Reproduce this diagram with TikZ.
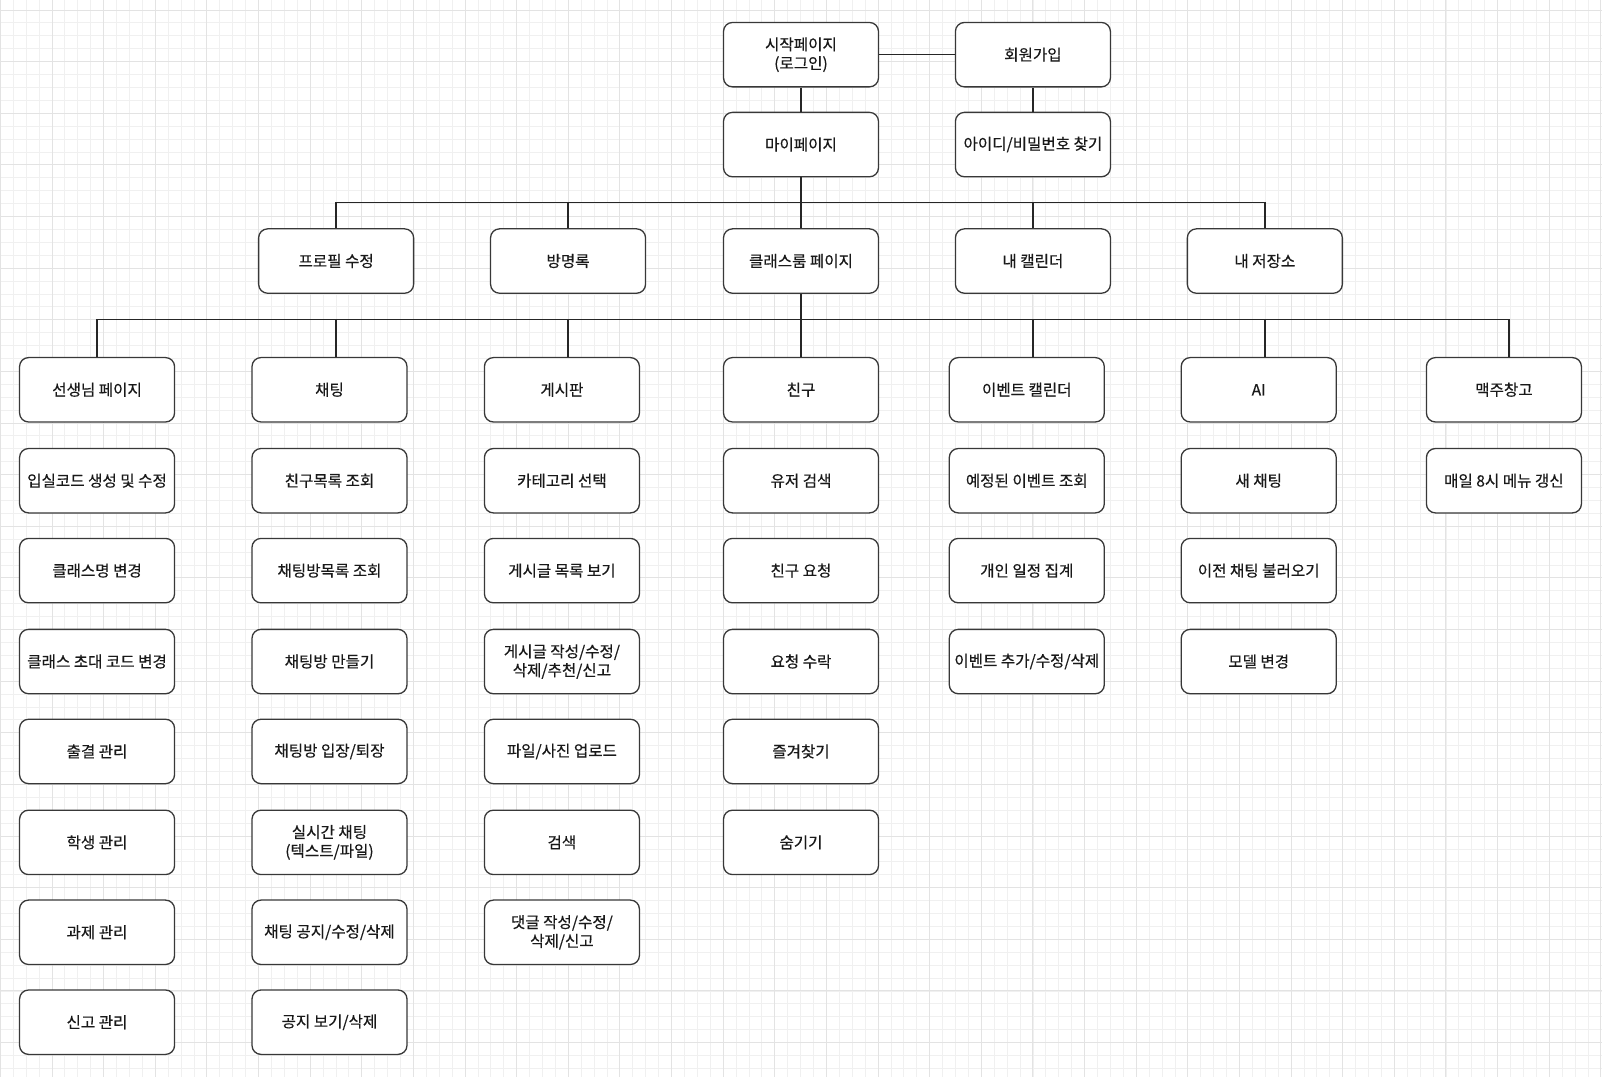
\documentclass[tikz,border=0pt]{standalone}
\usepackage{fontspec}
\setmainfont{Noto Sans CJK KR}[FakeBold=0.4]
\begin{document}
\begin{tikzpicture}[x=1.0217pt,y=-1.0217pt,
  bx/.style={draw=black!78, line width=1.3pt, rounded corners=9pt, fill=white,
    minimum width=155pt, minimum height=64.4pt, align=center, inner sep=1pt,
    font=\fontsize{15.6}{18.8}\selectfont, text=black!90},
  ln/.style={draw=black!85, line width=1.3pt}]
\useasboundingbox (0,0) rectangle (1568,1054);
\fill[white] (0,0) rectangle (1568,1054);
\begin{scope}
\clip (0,0) rectangle (1568,1054);
\foreach \k in {0,...,125} {
  \draw[color=black!6, line width=0.9pt] ({0.4+\k*12.633},0) -- ({0.4+\k*12.633},1054);
}
\foreach \k in {-1,...,84} {
  \draw[color=black!6, line width=0.9pt] (0,{9.8+\k*12.633}) -- (1568,{9.8+\k*12.633});
}
\foreach \k in {0,...,31} {
  \draw[color=black!11, line width=1pt] ({0.4+\k*50.53},0) -- ({0.4+\k*50.53},1054);
}
\foreach \k in {0,...,21} {
  \draw[color=black!11, line width=1pt] (0,{9.8+\k*50.53}) -- (1568,{9.8+\k*50.53});
}
\end{scope}

% top
\node[bx] (start) at (784,53.5) {시작페이지\\(로그인)};
\node[bx] (join) at (1011,53.5) {회원가입};
\node[bx] (my) at (784,141.5) {마이페이지};
\node[bx] (find) at (1011,141.5) {아이디/비밀번호 찾기};
% row 2
\node[bx] (prof) at (329,255.5) {프로필 수정};
\node[bx] (guest) at (556,255.5) {방명록};
\node[bx] (class) at (784,255.5) {클래스룸 페이지};
\node[bx] (cal) at (1011,255.5) {내 캘린더};
\node[bx] (store) at (1238,255.5) {내 저장소};
% row 3
\node[bx] (teach) at (95,381.5) {선생님 페이지};
\node[bx] (chat) at (322.5,381.5) {채팅};
\node[bx] (board) at (550,381.5) {게시판};
\node[bx] (friend) at (784,381.5) {친구};
\node[bx] (event) at (1005,381.5) {이벤트 캘린더};
\node[bx] (ai) at (1232,381.5) {AI};
\node[bx] (beer) at (1472,381.5) {맥주창고};
% column 1
\node[bx] (t1) at (95,470.5) {입실코드 생성 및 수정};
\node[bx] (t2) at (95,558.5) {클래스명 변경};
\node[bx] (t3) at (95,647.5) {클래스 초대 코드 변경};
\node[bx] (t4) at (95,735.5) {출결 관리};
\node[bx] (t5) at (95,824.5) {학생 관리};
\node[bx] (t6) at (95,912.5) {과제 관리};
\node[bx] (t7) at (95,1000.5) {신고 관리};
% column 2
\node[bx] (c1) at (322.5,470.5) {친구목록 조회};
\node[bx] (c2) at (322.5,558.5) {채팅방목록 조회};
\node[bx] (c3) at (322.5,647.5) {채팅방 만들기};
\node[bx] (c4) at (322.5,735.5) {채팅방 입장/퇴장};
\node[bx] (c5) at (322.5,824.5) {실시간 채팅\\(텍스트/파일)};
\node[bx] (c6) at (322.5,912.5) {채팅 공지/수정/삭제};
\node[bx] (c7) at (322.5,1000.5) {공지 보기/삭제};
% column 3
\node[bx] (g1) at (550,470.5) {카테고리 선택};
\node[bx] (g2) at (550,558.5) {게시글 목록 보기};
\node[bx] (g3) at (550,647.5) {게시글 작성/수정/\\삭제/추천/신고};
\node[bx] (g4) at (550,735.5) {파일/사진 업로드};
\node[bx] (g5) at (550,824.5) {검색};
\node[bx] (g6) at (550,912.5) {댓글 작성/수정/\\삭제/신고};
% column 4
\node[bx] (f1) at (784,470.5) {유저 검색};
\node[bx] (f2) at (784,558.5) {친구 요청};
\node[bx] (f3) at (784,647.5) {요청 수락};
\node[bx] (f4) at (784,735.5) {즐겨찾기};
\node[bx] (f5) at (784,824.5) {숨기기};
% column 5
\node[bx] (e1) at (1005,470.5) {예정된 이벤트 조회};
\node[bx] (e2) at (1005,558.5) {개인 일정 집계};
\node[bx] (e3) at (1005,647.5) {이벤트 추가/수정/삭제};
% column 6
\node[bx] (a1) at (1232,470.5) {새 채팅};
\node[bx] (a2) at (1232,558.5) {이전 채팅 불러오기};
\node[bx] (a3) at (1232,647.5) {모델 변경};
% column 7
\node[bx] (m1) at (1472,470.5) {매일 8시 메뉴 갱신};

% connectors
\coordinate (b1) at (784,198.5);
\coordinate (b2) at (784,313);
\draw[ln] (start.east) -- (join.west);
\draw[ln] (start.south) -- (my.north);
\draw[ln] (join.south) -- (find.north);
\draw[ln] (my.south) -- (class.north);
\draw[ln] (prof.north) |- (b1);
\draw[ln] (guest.north) |- (b1);
\draw[ln] (cal.north) |- (b1);
\draw[ln] (store.north) |- (b1);
\draw[ln] (class.south) -- (friend.north);
\draw[ln] (teach.north) |- (b2);
\draw[ln] (prof |- chat.north) |- (b2);
\draw[ln] (guest |- board.north) |- (b2);
\draw[ln] (cal |- event.north) |- (b2);
\draw[ln] (store |- ai.north) |- (b2);
\draw[ln] ([xshift=5.1pt]beer.north) |- (b2);
\end{tikzpicture}
\end{document}
